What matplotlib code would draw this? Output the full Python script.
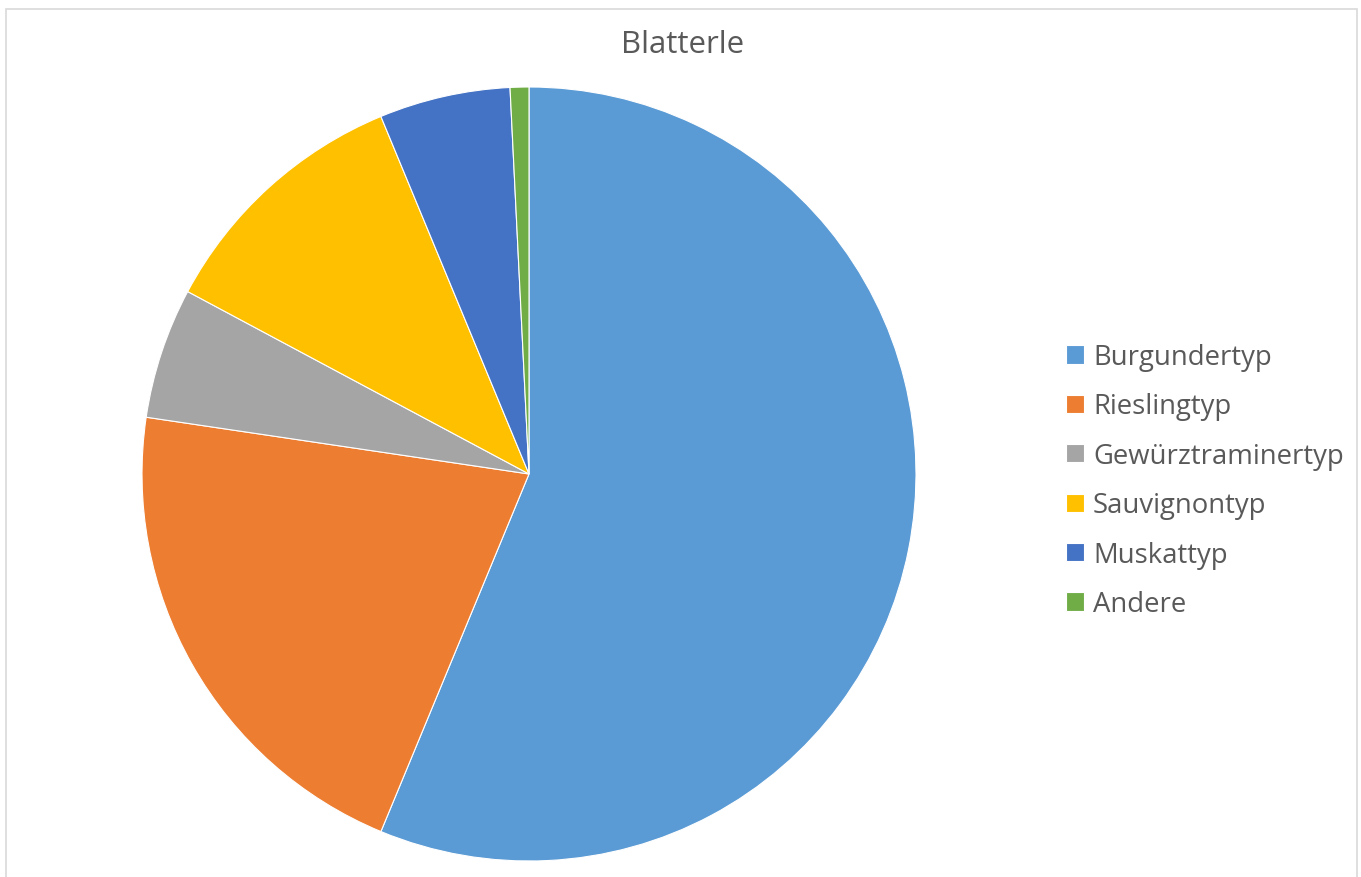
import matplotlib.pyplot as plt
from matplotlib.patches import Rectangle

plt.rcParams['font.family'] = ['Open Sans', 'DejaVu Sans']

labels = ['Burgundertyp', 'Rieslingtyp', 'Gewürztraminertyp', 'Sauvignontyp', 'Muskattyp', 'Andere']
counts = [72, 27, 7, 14, 7, 1]
colors = ['#5B9BD5', '#ED7D31', '#A5A5A5', '#FFC000', '#4472C4', '#70AD47']
text_color = '#595959'

fig = plt.figure(figsize=(13.61, 8.78), dpi=100)

# light chart-area frame like the Excel screenshot
fig.patches.append(Rectangle((6 / 1361, -0.05), 1351 / 1361, (878 - 10) / 878 + 0.05,
                             transform=fig.transFigure, fill=False,
                             edgecolor='#D9D9D9', linewidth=1.2))

ax = fig.add_axes([142 / 1361, 16 / 878, 774 / 1361, 774 / 878])
wedges, _ = ax.pie(counts, colors=colors, startangle=90, counterclock=False,
                   radius=1, wedgeprops=dict(edgecolor='white', linewidth=0.8))
ax.set_xlim(-1, 1)
ax.set_ylim(-1, 1)
ax.set_aspect('equal')
ax.axis('off')

fig.text(683 / 1361, 1 - 45 / 878, 'Blatterle', ha='center', va='center',
         fontsize=22.5, color=text_color)

leg = fig.legend(wedges, labels, loc='upper left', bbox_to_anchor=(1055 / 1361, 1 - 333 / 878),
                 frameon=False, fontsize=19.8, handlelength=0.65, handleheight=0.65,
                 handletextpad=0.33, labelspacing=0.78, borderaxespad=0)
for t in leg.get_texts():
    t.set_color(text_color)

fig.savefig('out.png', dpi=100)
